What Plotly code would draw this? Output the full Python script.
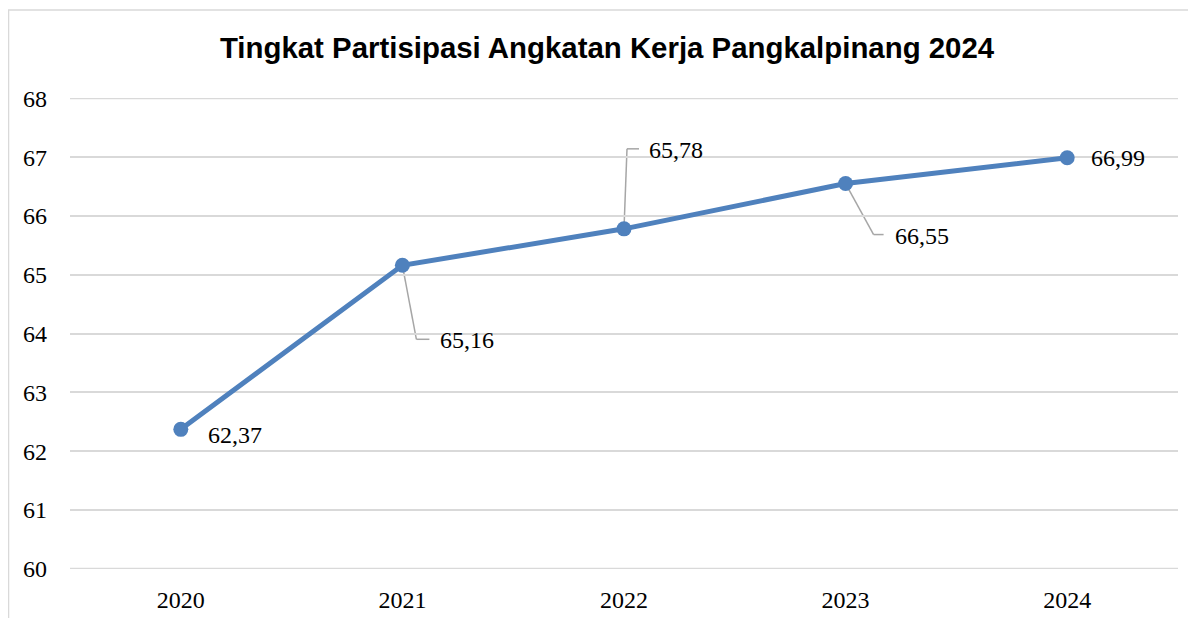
import plotly.graph_objects as go

years = ["2020", "2021", "2022", "2023", "2024"]
tpak = [62.37, 65.16, 65.78, 66.55, 66.99]
y_ticks = [60, 61, 62, 63, 64, 65, 66, 67, 68]
title_text = "Tingkat Partisipasi Angkatan Kerja Pangkalpinang 2024"

# label placement (pixel offsets: text-left dx, text-center dy (down positive))
label_off = [(25, 6), (36, 75), (23, -79), (47, 52), (22, 0)]
# leader paths (pixel offsets, down positive); None = no leader
leaders = [None,
           [(0, 0), (14, 74), (27, 74)],
           [(0, 0), (3, -80), (15, -80)],
           [(0, 0), (28, 51), (38, 51)],
           None]

blue = "#4F81BD"
grid = "#d9d9d9"
serif = "Liberation Serif, Times New Roman, serif"

fig = go.Figure()
fig.add_trace(go.Scatter(
    x=years, y=tpak, mode="lines+markers",
    line=dict(color=blue, width=5),
    marker=dict(color=blue, size=15),
    hoverinfo="skip", showlegend=False,
))

annotations = []
shapes = []
# make sure the gridlines at the range edges are visible
for t in (y_ticks[0], y_ticks[-1]):
    shapes.append(dict(type="line", xref="paper", yref="y", x0=0, x1=1, y0=t, y1=t,
                       line=dict(color=grid, width=2), layer="below"))

for i, (yr, v) in enumerate(zip(years, tpak)):
    dx, dy = label_off[i]
    annotations.append(dict(
        x=i, y=v, xref="x", yref="y", text=f"{v:.2f}".replace(".", ","),
        showarrow=False, xanchor="left", yanchor="middle",
        xshift=dx, yshift=-dy,
        font=dict(family=serif, size=24, color="#000000"),
    ))
    if leaders[i]:
        pts = leaders[i]
        for (ax0, ay0), (ax1, ay1) in zip(pts[:-1], pts[1:]):
            shapes.append(dict(
                type="line", xref="x", yref="y", xsizemode="pixel", ysizemode="pixel",
                xanchor=i, yanchor=v, x0=ax0, x1=ax1, y0=-ay0, y1=-ay1,
                line=dict(color="#a6a6a6", width=1.5), layer="below",
            ))

# outer chart border
shapes.append(dict(type="rect", xref="paper", yref="paper",
                   x0=-0.0555, x1=1.03, y0=-0.13, y1=1.1868,
                   line=dict(color=grid, width=1.5)))

fig.update_layout(
    width=1188, height=610,
    margin=dict(l=62, r=18, t=90, b=49, autoexpand=False),
    paper_bgcolor="white", plot_bgcolor="white",
    title=dict(text=f"<b>{title_text}</b>", x=0.4847, xref="paper", xanchor="center",
               y=0.9344, yref="container", yanchor="middle",
               font=dict(family="Liberation Sans, Arial, sans-serif", size=29.4, color="#000000")),
    xaxis=dict(type="category", range=[-0.5, 4.5], showgrid=False, zeroline=False,
               showline=False, ticks="", ticklabelstandoff=14, automargin=False,
               tickfont=dict(family=serif, size=24, color="#000000")),
    yaxis=dict(range=[59.995, 68.005], tickvals=y_ticks, showgrid=True, gridcolor=grid,
               gridwidth=2, zeroline=False, showline=False, ticks="",
               ticklabelstandoff=22, automargin=False,
               tickfont=dict(family=serif, size=24, color="#000000")),
    annotations=annotations,
    shapes=shapes,
)

fig.write_html("out.html")
